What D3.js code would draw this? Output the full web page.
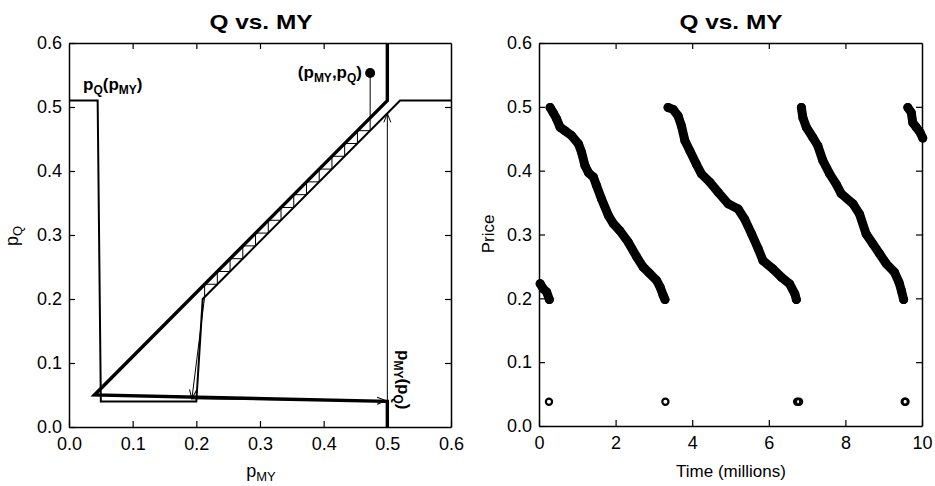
<!DOCTYPE html>
<html>
<head>
<meta charset="utf-8">
<script src="https://cdn.jsdelivr.net/npm/d3@7"></script>
<style>
  body { margin: 0; background: #fff; }
  svg { display: block; font-family: "Liberation Sans", Arial, Helvetica, sans-serif; }
</style>
</head>
<body>
<svg id="chart" width="935" height="486"></svg>
<script>
// left panel: the two reaction curves (pMY on x, pQ on y)
var qCurveMY  = [0, 0.045, 0.05, 0.2, 0.21, 0.52, 0.6],
    qCurveQ   = [0.51, 0.51, 0.04, 0.04, 0.2, 0.51, 0.51],
    myCurveMY = [0.5, 0.5, 0.04, 0.5, 0.5],
    myCurveQ  = [0.6, 0.51, 0.05, 0.04, 0];

// cobweb: start point and the undercutting steps
var startMY = 0.473, startQ = 0.553,
    stepMY = [0.473, 0.453, 0.433, 0.413, 0.393, 0.373, 0.353, 0.333, 0.313, 0.293, 0.273, 0.253, 0.233, 0.213, 0.193],
    stepQ  = [0.463, 0.443, 0.423, 0.403, 0.383, 0.363, 0.343, 0.323, 0.303, 0.283, 0.263, 0.243, 0.223, 0.203, 0.044],
    jumpMY = [0.193, 0.498],
    jumpQ  = [0.044, 0.041],
    riseMY = [0.5, 0.5],
    riseQ  = [0.041, 0.49];

var pTicks = [0, 0.1, 0.2, 0.3, 0.4, 0.5, 0.6];

// right panel: price over time (millions)
var run0Time  = [0.03, 0.11, 0.20, 0.27],
    run0Price = [0.223, 0.215, 0.21, 0.198],
    run1Time  = [0.29, 0.37, 0.46, 0.55, 0.68, 0.85, 1.03, 1.11, 1.20, 1.29, 1.42, 1.50, 1.63, 1.81, 1.94, 2.11, 2.33, 2.55, 2.72, 2.89, 3.07, 3.16, 3.24, 3.29],
    run1Price = [0.499, 0.491, 0.481, 0.468, 0.4625, 0.455, 0.442, 0.429, 0.408, 0.397, 0.390, 0.377, 0.356, 0.330, 0.317, 0.306, 0.288, 0.265, 0.249, 0.239, 0.228, 0.218, 0.205, 0.198],
    run2Time  = [3.37, 3.50, 3.63, 3.72, 3.81, 3.94, 4.11, 4.24, 4.46, 4.68, 4.94, 5.20, 5.37, 5.55, 5.72, 5.85, 6.11, 6.33, 6.54, 6.68, 6.72],
    run2Price = [0.499, 0.496, 0.486, 0.470, 0.447, 0.431, 0.410, 0.395, 0.382, 0.366, 0.348, 0.340, 0.324, 0.301, 0.278, 0.259, 0.246, 0.233, 0.223, 0.207, 0.198],
    run3Time  = [6.85, 6.89, 6.98, 7.15, 7.28, 7.41, 7.59, 7.76, 7.89, 8.20, 8.37, 8.54, 8.72, 8.89, 9.07, 9.28, 9.40, 9.46, 9.52],
    run3Price = [0.499, 0.483, 0.468, 0.452, 0.439, 0.416, 0.395, 0.379, 0.364, 0.348, 0.332, 0.301, 0.285, 0.270, 0.254, 0.241, 0.225, 0.2125, 0.198],
    run4Time  = [9.63, 9.72, 9.76, 9.85, 9.95, 10.02],
    run4Price = [0.499, 0.491, 0.475, 0.468, 0.460, 0.451],
    lowTime   = [0.26, 3.30, 6.74, 6.79, 9.55, 9.57],
    lowPrice  = [0.038, 0.038, 0.038, 0.038, 0.038, 0.038];

var timeTicks = [0, 2, 4, 6, 8, 10];

var svg = d3.select('#chart'),
    fmt = d3.format('.1f');

svg.append('rect').attr('width', 935).attr('height', 486).attr('fill', '#fff');

var defs = svg.append('defs');
defs.append('marker')
    .attr('id', 'arr')
    .attr('markerUnits', 'userSpaceOnUse')
    .attr('markerWidth', 12).attr('markerHeight', 10)
    .attr('viewBox', '-10 -5 12 10')
    .attr('refX', 0).attr('refY', 0)
    .attr('orient', 'auto')
    .append('path')
    .attr('d', 'M-9,-3.5 L0,0 L-9,3.5')
    .attr('fill', 'none').attr('stroke', '#000').attr('stroke-width', 1);

function zip(a, b) {
    return a.map(function (v, i) { return [v, b[i]]; });
}

// draws a boxed frame with inward ticks on all four sides
function frame(g, x, y, xTicks, xFmt, yTicks) {
    var x0 = x.range()[0], x1 = x.range()[1],
        y0 = y.range()[0], y1 = y.range()[1];

    var inner = function (t, i, arr) { return i > 0 && i < arr.length - 1; };

    g.append('g').attr('transform', 'translate(0,' + y0 + ')')
        .call(d3.axisBottom(x).tickValues(xTicks).tickFormat(xFmt).tickSize(-6).tickSizeOuter(0).tickPadding(10));
    g.append('g').attr('transform', 'translate(0,' + y1 + ')')
        .call(d3.axisTop(x).tickValues(xTicks.filter(inner)).tickFormat('').tickSize(-6).tickSizeOuter(0));
    g.append('g').attr('transform', 'translate(' + x0 + ',0)')
        .call(d3.axisLeft(y).tickValues(yTicks).tickFormat(fmt).tickSize(-6).tickSizeOuter(0).tickPadding(7));
    g.append('g').attr('transform', 'translate(' + x1 + ',0)')
        .call(d3.axisRight(y).tickValues(yTicks.filter(inner)).tickFormat('').tickSize(-6).tickSizeOuter(0));

    g.selectAll('.domain').attr('stroke', '#000').attr('stroke-width', 1.5);
    g.selectAll('.tick line').attr('stroke', '#000').attr('stroke-width', 1.2);
    g.selectAll('.tick text').attr('font-size', 18).attr('fill', '#000')
        .attr('font-family', '"Liberation Sans", Arial, Helvetica, sans-serif');
}

function title(g, cx) {
    g.append('text')
        .attr('x', cx).attr('y', 29)
        .attr('text-anchor', 'middle')
        .attr('font-size', 21).attr('font-weight', 'bold')
        .attr('textLength', 103).attr('lengthAdjust', 'spacingAndGlyphs')
        .text('Q vs. MY');
}

// text of the form p<sub>a</sub>(p<sub>b</sub>) etc.
function subText(sel, parts, big, small) {
    parts.forEach(function (p) {
        var t = sel.append('tspan').text(p[0]);
        if (p[1] === 'sub') {
            t.attr('font-size', small).attr('dy', 4);
        } else if (p[1] === 'up') {
            t.attr('font-size', big).attr('dy', -4);
        } else {
            t.attr('font-size', big);
        }
    });
}

/* ---------- left panel ---------- */
var xL = d3.scaleLinear().domain([0, 0.6]).range([69, 451]),
    yL = d3.scaleLinear().domain([0, 0.6]).range([427, 43]),
    gL = svg.append('g');

var lineL = d3.line().x(function (d) { return xL(d[0]); }).y(function (d) { return yL(d[1]); });

gL.append('path').datum(zip(qCurveMY, qCurveQ))
    .attr('d', lineL).attr('fill', 'none').attr('stroke', '#000')
    .attr('stroke-width', 2).attr('stroke-linejoin', 'miter');

gL.append('path').datum(zip(myCurveMY, myCurveQ))
    .attr('d', lineL).attr('fill', 'none').attr('stroke', '#000')
    .attr('stroke-width', 3.4).attr('stroke-linejoin', 'miter');

// cobweb staircase
var web = [[startMY, startQ]];
stepMY.forEach(function (m, i) {
    web.push([m, stepQ[i]]);
    if (i < stepMY.length - 2) {
        web.push([stepMY[i + 1], stepQ[i]]);
    }
});
var webSteps = web.slice(0, web.length - 1),
    webDrop = web.slice(web.length - 2);

gL.append('path').datum(webSteps)
    .attr('d', lineL).attr('fill', 'none').attr('stroke', '#000').attr('stroke-width', 1);
gL.append('path').datum(webDrop)
    .attr('d', lineL).attr('fill', 'none').attr('stroke', '#000').attr('stroke-width', 1)
    .attr('marker-end', 'url(#arr)');
gL.append('path').datum(zip(jumpMY, jumpQ))
    .attr('d', lineL).attr('fill', 'none').attr('stroke', '#000').attr('stroke-width', 1)
    .attr('marker-end', 'url(#arr)');
gL.append('path').datum(zip(riseMY, riseQ))
    .attr('d', lineL).attr('fill', 'none').attr('stroke', '#000').attr('stroke-width', 1)
    .attr('marker-end', 'url(#arr)');

gL.append('circle')
    .attr('cx', xL(startMY)).attr('cy', yL(startQ)).attr('r', 5).attr('fill', '#000');

frame(gL, xL, yL, pTicks, fmt, pTicks);
title(gL, 261);

// annotations
subText(gL.append('text').attr('x', 83).attr('y', 90).attr('font-weight', 'bold'),
    [['p'], ['Q', 'sub'], ['(p', 'up'], ['MY', 'sub'], [')', 'up']], 17, 12);
subText(gL.append('text').attr('x', 362).attr('y', 78).attr('font-weight', 'bold').attr('text-anchor', 'end'),
    [['(p'], ['MY', 'sub'], [',p', 'up'], ['Q', 'sub'], [')', 'up']], 17, 12);
subText(gL.append('text').attr('transform', 'translate(398,350) rotate(90)').attr('font-weight', 'bold'),
    [['p'], ['MY', 'sub'], ['(p', 'up'], ['Q', 'sub'], [')', 'up']], 17, 12);

// axis labels
subText(gL.append('text').attr('x', 261).attr('y', 477).attr('text-anchor', 'middle'),
    [['p'], ['MY', 'sub']], 18, 13);
subText(gL.append('text').attr('transform', 'translate(18,236) rotate(-90)').attr('text-anchor', 'middle'),
    [['p'], ['Q', 'sub']], 18, 13);

/* ---------- right panel ---------- */
var xR = d3.scaleLinear().domain([0, 10]).range([539, 922]),
    yR = d3.scaleLinear().domain([0, 0.6]).range([426, 43]),
    gR = svg.append('g');

var lineR = d3.line().x(function (d) { return xR(d[0]); }).y(function (d) { return yR(d[1]); });

var runs = [
    zip(run0Time, run0Price),
    zip(run1Time, run1Price),
    zip(run2Time, run2Price),
    zip(run3Time, run3Price),
    zip(run4Time, run4Price)
];

frame(gR, xR, yR, timeTicks, d3.format('d'), pTicks);

runs.forEach(function (run) {
    gR.append('path').datum(run)
        .attr('d', lineR).attr('fill', 'none').attr('stroke', '#000')
        .attr('stroke-width', 9).attr('stroke-linecap', 'round').attr('stroke-linejoin', 'round');
    gR.selectAll(null).data(run).enter().append('circle')
        .attr('cx', function (d) { return xR(d[0]); })
        .attr('cy', function (d) { return yR(d[1]); })
        .attr('r', 3.6).attr('fill', 'none').attr('stroke', '#000').attr('stroke-width', 1.8);
});

gR.selectAll(null).data(zip(lowTime, lowPrice)).enter().append('circle')
    .attr('cx', function (d) { return xR(d[0]); })
    .attr('cy', function (d) { return yR(d[1]); })
    .attr('r', 3.1).attr('fill', 'none').attr('stroke', '#000').attr('stroke-width', 2.2);

title(gR, 731);

gR.append('text').attr('x', 731).attr('y', 477).attr('text-anchor', 'middle')
    .attr('font-size', 17).text('Time (millions)');
gR.append('text').attr('transform', 'translate(494,234) rotate(-90)').attr('text-anchor', 'middle')
    .attr('font-size', 17).text('Price');
</script>
</body>
</html>
